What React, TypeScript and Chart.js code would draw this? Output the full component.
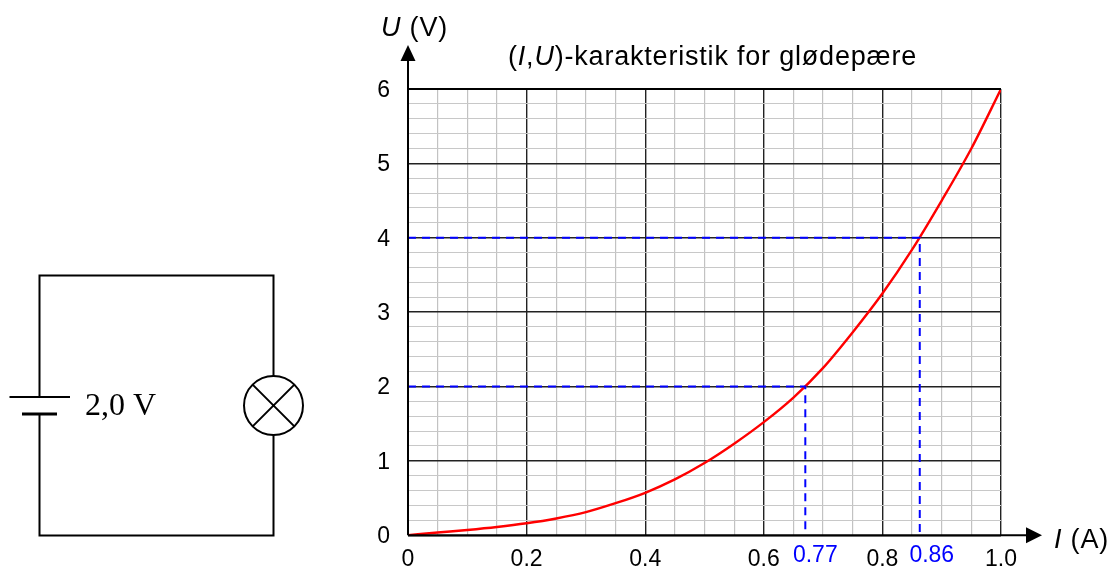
import React, { useEffect, useRef } from "react";
import { Chart, registerables } from "chart.js";

Chart.register(...registerables);

const currents = [0, 0.05, 0.1, 0.15, 0.2, 0.25, 0.3, 0.35, 0.4, 0.45, 0.5, 0.55, 0.6, 0.65, 0.7, 0.75, 0.8, 0.85, 0.9, 0.95, 1.0];
const voltages = [0, 0.036, 0.07, 0.11, 0.16, 0.225, 0.31, 0.43, 0.57, 0.75, 0.97, 1.23, 1.52, 1.85, 2.25, 2.73, 3.25, 3.84, 4.5, 5.2, 6.0];
const guideCurrents = [0.67, 0.863];
const guideVoltages = [2, 4];
const guideLabels = ["0.77", "0.86"];
const xMajorTicks = [
  [0, "0"],
  [0.2, "0.2"],
  [0.4, "0.4"],
  [0.6, "0.6"],
  [0.8, "0.8"],
  [1, "1.0"],
] as [number, string][];
const yMajorTicks = [0, 1, 2, 3, 4, 5, 6];

const SANS = '"Liberation Sans", Arial, sans-serif';
const isMajorX = (v: number) => xMajorTicks.some(([t]) => Math.abs(t - v) < 1e-6);
const isMajorY = (v: number) => yMajorTicks.some((t) => Math.abs(t - v) < 1e-6);

function drawRuns(ctx: any, x: number, y: number, runs: [string, boolean][], size: number) {
  let cx = x;
  ctx.letterSpacing = "0.8px";
  for (const [text, italic] of runs) {
    ctx.font = `${italic ? "italic " : ""}${size}px ${SANS}`;
    ctx.fillText(text, cx, y);
    cx += ctx.measureText(text).width;
  }
  ctx.letterSpacing = "0px";
}

const annotations = {
  id: "annotations",
  afterDatasetsDraw(chart: any) {
    const { ctx, scales, chartArea } = chart;
    const { left, bottom, top, right } = chartArea;
    ctx.save();

    // axes with arrow heads
    ctx.strokeStyle = "#000";
    ctx.fillStyle = "#000";
    ctx.lineWidth = 2;
    ctx.beginPath();
    ctx.moveTo(left, bottom);
    ctx.lineTo(left, 55);
    ctx.moveTo(left, bottom);
    ctx.lineTo(1030, bottom);
    ctx.moveTo(left, top);
    ctx.lineTo(right, top);
    ctx.stroke();
    ctx.beginPath();
    ctx.moveTo(left, 45);
    ctx.lineTo(left - 7.5, 61);
    ctx.lineTo(left + 7.5, 61);
    ctx.closePath();
    ctx.moveTo(1042, bottom);
    ctx.lineTo(1026, bottom - 8);
    ctx.lineTo(1026, bottom + 8);
    ctx.closePath();
    ctx.fill();

    // text
    ctx.textAlign = "left";
    ctx.textBaseline = "alphabetic";
    drawRuns(ctx, 381, 36, [["U", true], [" (V)", false]], 27);
    drawRuns(ctx, 1054, 548, [["I", true], [" (A)", false]], 27);
    drawRuns(ctx, 508, 65, [["(", false], ["I", true], [",", false], ["U", true], [")-karakteristik for glødepære", false]], 27);

    ctx.fillStyle = "#0000ff";
    ctx.font = `23px ${SANS}`;
    ctx.textAlign = "center";
    guideCurrents.forEach((c, i) => {
      const offset = i === 0 ? 10 : 12;
      ctx.fillText(guideLabels[i], scales.x.getPixelForValue(c) + offset, 562);
    });

    // circuit
    ctx.strokeStyle = "#000";
    ctx.fillStyle = "#000";
    ctx.lineWidth = 2;
    const cl = 39.5, cr = 273.5, ct = 275.5, cb = 535.5;
    const lampY = 405.5, lampR = 29.5;
    ctx.beginPath();
    ctx.moveTo(cl, 397);
    ctx.lineTo(cl, ct);
    ctx.lineTo(cr, ct);
    ctx.lineTo(cr, lampY - lampR);
    ctx.moveTo(cr, lampY + lampR);
    ctx.lineTo(cr, cb);
    ctx.lineTo(cl, cb);
    ctx.lineTo(cl, 414);
    ctx.moveTo(9.5, 397);
    ctx.lineTo(70, 397);
    ctx.stroke();
    ctx.lineWidth = 3;
    ctx.beginPath();
    ctx.moveTo(22, 414);
    ctx.lineTo(57, 414);
    ctx.stroke();
    ctx.lineWidth = 2;
    ctx.beginPath();
    ctx.arc(cr, lampY, lampR, 0, Math.PI * 2);
    const d = lampR * Math.SQRT1_2;
    ctx.moveTo(cr - d, lampY - d);
    ctx.lineTo(cr + d, lampY + d);
    ctx.moveTo(cr + d, lampY - d);
    ctx.lineTo(cr - d, lampY + d);
    ctx.stroke();
    ctx.textAlign = "left";
    ctx.font = '32px "Liberation Serif", "Times New Roman", serif';
    ctx.fillText("2,0 V", 85, 415);
    ctx.restore();
  },
};

export default function App() {
  const ref = useRef<HTMLCanvasElement | null>(null);
  useEffect(() => {
    if (!ref.current) return;
    const guides = guideCurrents.map((c, i) => ({
      data: [
        { x: 0, y: guideVoltages[i] },
        { x: c, y: guideVoltages[i] },
        { x: c, y: 0 },
      ],
      borderColor: "#0000ff",
      borderWidth: 2,
      borderDash: [8, 6],
      pointRadius: 0,
      tension: 0,
    }));
    const chart = new Chart(ref.current, {
      type: "line",
      data: {
        datasets: [
          ...guides,
          {
            data: currents.map((x, i) => ({ x, y: voltages[i] })),
            borderColor: "#ff0000",
            borderWidth: 2.4,
            pointRadius: 0,
            cubicInterpolationMode: "monotone",
          },
        ] as any,
      },
      options: {
        animation: false,
        responsive: false,
        maintainAspectRatio: false,
        layout: { padding: { left: 358, top: 89, right: 107, bottom: 0 } },
        plugins: { legend: { display: false }, tooltip: { enabled: false }, title: { display: false } },
        scales: {
          x: {
            type: "linear",
            min: 0,
            max: 1,
            afterFit: (s: any) => { s.height = 31.5; },
            border: { display: false },
            grid: {
              drawTicks: false,
              color: (c: any) => (isMajorX(c.tick.value) ? "#222222" : "#c2c2c2"),
              lineWidth: (c: any) => (isMajorX(c.tick.value) ? 1.4 : 1.2),
            },
            ticks: {
              stepSize: 0.05,
              autoSkip: false,
              maxRotation: 0,
              padding: 11,
              color: "#000",
              font: { family: SANS, size: 23 },
              callback: (v: any) => {
                const m = xMajorTicks.find(([t]) => Math.abs(t - v) < 1e-6);
                return m ? m[1] : "";
              },
            },
          },
          y: {
            type: "linear",
            min: 0,
            max: 6,
            afterFit: (s: any) => { s.width = 50; },
            border: { display: false },
            grid: {
              drawTicks: false,
              color: (c: any) => (isMajorY(c.tick.value) ? "#222222" : "#c8c8c8"),
              lineWidth: (c: any) => (isMajorY(c.tick.value) ? 1.4 : 1.1),
            },
            ticks: {
              stepSize: 0.2,
              autoSkip: false,
              padding: 18,
              labelOffset: 1.5,
              color: "#000",
              font: { family: SANS, size: 23 },
              callback: (v: any) => (isMajorY(v) ? String(Math.round(v)) : ""),
            },
          },
        },
      },
      plugins: [annotations],
    } as any);
    return () => chart.destroy();
  }, []);
  return (
    <div style={{ position: "fixed", left: 0, top: 0, width: 1108, height: 567, background: "#fff" }}>
      <canvas ref={ref} width={1108} height={567} style={{ display: "block" }} />
    </div>
  );
}
